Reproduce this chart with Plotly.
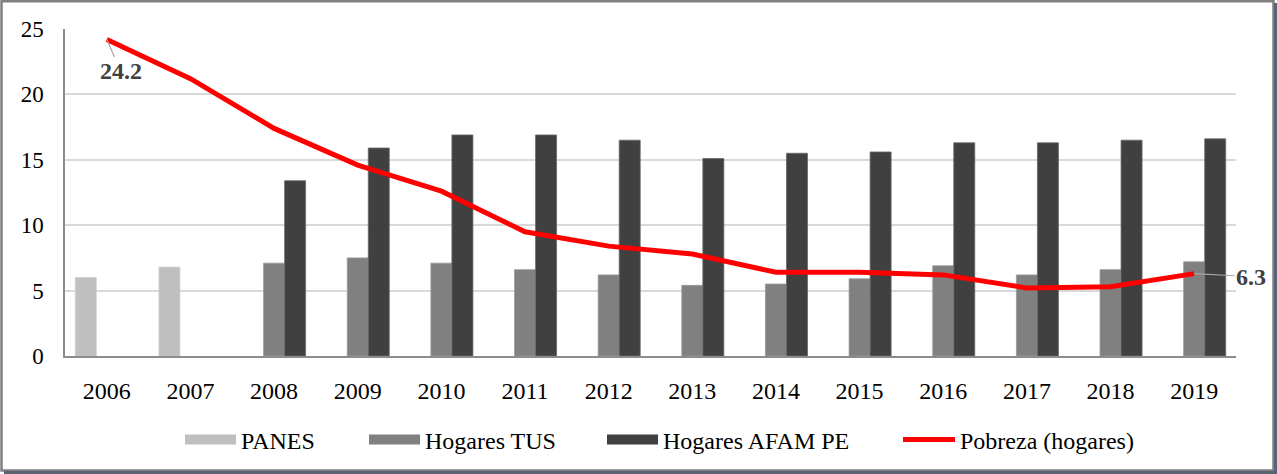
import plotly.graph_objects as go

years = ["2006", "2007", "2008", "2009", "2010", "2011", "2012", "2013",
         "2014", "2015", "2016", "2017", "2018", "2019"]
panes = [6.0, 6.8, None, None, None, None, None, None, None, None, None, None, None, None]
hogares_tus = [None, None, 7.1, 7.5, 7.1, 6.6, 6.2, 5.4, 5.5, 5.9, 6.9, 6.2, 6.6, 7.2]
hogares_afam = [None, None, 13.4, 15.9, 16.9, 16.9, 16.5, 15.1, 15.5, 15.6, 16.3, 16.3, 16.5, 16.6]
pobreza = [24.2, 21.2, 17.4, 14.6, 12.6, 9.5, 8.4, 7.8, 6.4, 6.4, 6.2, 5.2, 5.3, 6.3]

FONT = "Liberation Serif, Times New Roman, serif"
L, R, T, B = 65, 41, 29, 118
W, H = 1277, 474
PW, PH = W - L - R, H - T - B


def px_x(p):
    return (p - L) / PW


def px_y(p):
    return (H - B - p) / PH


bar_series = [
    ("PANES", panes, "#bfbfbf", "#d0d0d0", "legend"),
    ("Hogares TUS", hogares_tus, "#808080", "#999999", "legend2"),
    ("Hogares AFAM PE", hogares_afam, "#404040", "#6a6a6a", "legend3"),
]

fig = go.Figure()
for name, vals, col, edge, lg in bar_series:
    fig.add_trace(go.Bar(x=years, y=vals, name=name, legendgroup=name, showlegend=False,
                         marker=dict(color=col, line=dict(color=edge, width=0.8))))
for name, vals, col, edge, lg in bar_series:
    # wide rectangular legend swatch for the bar series (legend entry only)
    fig.add_trace(go.Scatter(x=[None], y=[None], name=name, legendgroup=name, legend=lg,
                             mode="lines", line=dict(color=col, width=10),
                             hoverinfo="skip"))
fig.add_trace(go.Scatter(x=years, y=pobreza, name="Pobreza (hogares)", mode="lines",
                         legend="legend4", line=dict(color="#ff0000", width=5)))

# data labels on first and last point (category index positions)
fig.add_annotation(x=0, y=pobreza[0], text="<b>%.1f</b>" % pobreza[0],
                   showarrow=True, arrowhead=0, arrowwidth=1.2, arrowcolor="#a6a6a6",
                   ax=14, ay=32, font=dict(family=FONT, size=24, color="#404040"))
fig.add_annotation(x=len(years) - 1, y=pobreza[-1], text="<b>%.1f</b>" % pobreza[-1],
                   showarrow=True, arrowhead=0, arrowwidth=1.2, arrowcolor="#a6a6a6",
                   ax=57, ay=3, font=dict(family=FONT, size=24, color="#404040"))

# outer frame with shadow on right/bottom
fig.add_shape(type="rect", xref="paper", yref="paper",
              x0=px_x(1.5), x1=px_x(1273.5), y0=px_y(470.5), y1=px_y(1.2),
              line=dict(color="#808080", width=2.5), layer="above")
fig.add_shape(type="line", xref="paper", yref="paper",
              x0=px_x(1275.5), x1=px_x(1275.5), y0=px_y(474), y1=px_y(3),
              line=dict(color="#5a6376", width=3), layer="above")
fig.add_shape(type="line", xref="paper", yref="paper",
              x0=px_x(4), x1=px_x(1277), y0=px_y(472.5), y1=px_y(472.5),
              line=dict(color="#5a6376", width=3), layer="above")

legfont = dict(family=FONT, size=24, color="black")
leg_y = px_y(440)


def leg(xpix, iw=51):
    return dict(orientation="h", x=px_x(xpix), xanchor="left", y=leg_y, yanchor="middle",
                font=legfont, itemwidth=iw, bgcolor="rgba(0,0,0,0)")


fig.update_layout(
    width=W, height=H,
    margin=dict(l=L, r=R, t=T, b=B, autoexpand=False),
    paper_bgcolor="white", plot_bgcolor="white",
    barmode="group", bargap=0.246, bargroupgap=0,
    font=dict(family=FONT, size=23, color="black"),
    showlegend=True,
    legend=leg(180),
    legend2=leg(364),
    legend3=leg(602),
    legend4=leg(898, 52),
    xaxis=dict(type="category", range=[-0.5, len(years) - 0.5], showgrid=False,
               showline=True, linecolor="#8c8c8c",
               linewidth=1.5, ticks="", ticklabelstandoff=12, automargin=False,
               tickfont=dict(family=FONT, size=24, color="black")),
    yaxis=dict(range=[0, 25], tickvals=[0, 5, 10, 15, 20, 25],
               showgrid=True, gridcolor="#d9d9d9", gridwidth=1.5, automargin=False,
               zeroline=False, showline=True, linecolor="#8c8c8c", linewidth=1.5,
               ticks="", ticklabelstandoff=15,
               tickfont=dict(family=FONT, size=23, color="black")),
)

fig.write_html("out.html", config={"displayModeBar": False},
               post_script="document.body.style.margin='0';")
